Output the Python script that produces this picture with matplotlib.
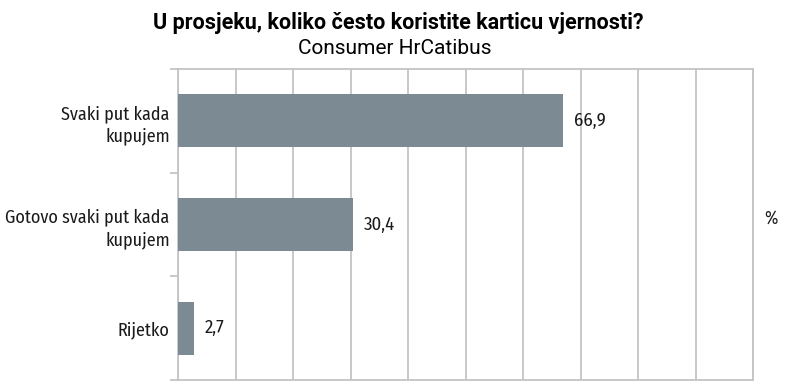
import numpy as np
import matplotlib.pyplot as plt

# podaci
categories = ['Svaki put kada\nkupujem', 'Gotovo svaki put kada\nkupujem', 'Rijetko']
values = [66.9, 30.4, 2.7]
value_labels = ['66,9', '30,4', '2,7']

title = 'U prosjeku, koliko često koristite karticu vjernosti?'
subtitle = 'Consumer HrCatibus'

bar_color = '#7b8a93'
grid_color = '#c4c4c4'
label_font = ['Fira Sans Condensed', 'DejaVu Sans']
title_font = ['Roboto', 'DejaVu Sans']

fig = plt.figure(figsize=(7.89, 3.92), dpi=100)
ax = fig.add_axes([178/789, 1-380/392, (753-178)/789, (380-69)/392])

y = np.arange(len(categories))
ax.barh(y, values, height=0.51, color=bar_color, zorder=3)

for yi, v, lab in zip(y, values, value_labels):
    ax.text(v + 2.0, yi, lab, va='center', ha='left', fontsize=13.5,
            family=label_font, color='#1a1a1a')

ax.set_xlim(0, 100)
ax.set_ylim(len(categories) - 0.5, -0.5)
ax.set_xticks(np.arange(0, 101, 10))
ax.tick_params(axis='x', length=0, labelbottom=False)
ax.xaxis.grid(True, color=grid_color, linewidth=1.3, zorder=0)

ax.set_yticks(y)
ax.set_yticklabels(categories, fontsize=13, family=label_font,
                   color='#1a1a1a', linespacing=1.35)
ax.tick_params(axis='y', length=0, pad=6)
ax.set_yticks(np.arange(-0.5, len(categories), 1), minor=True)
ax.tick_params(axis='y', which='minor', length=6, width=1.3, color=grid_color)

for s in ax.spines.values():
    s.set_color(grid_color)
    s.set_linewidth(1.3)

ax.text(1.02, 0.52, '%', transform=ax.transAxes, fontsize=13,
        family=label_font, va='center', ha='left', color='#1a1a1a')

fig.text(0.505, 0.942, title, ha='center', va='center', fontsize=15.5,
         fontweight='bold', family=title_font)
fig.text(0.5, 0.876, subtitle, ha='center', va='center', fontsize=15,
         family=title_font)

fig.savefig('out.png', dpi=100)
